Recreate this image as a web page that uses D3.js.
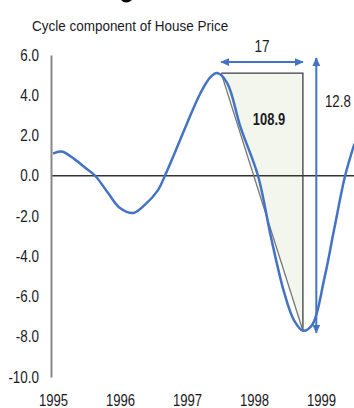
<!DOCTYPE html>
<html><head><meta charset="utf-8">
<script src="https://cdn.jsdelivr.net/npm/d3@7"></script>
<style>
html,body{margin:0;padding:0;background:#fff;overflow:hidden}
svg{display:block}
text{font-family:'Liberation Sans','Arial',sans-serif}
</style></head>
<body>
<script>
// ---- data ----
const years = [1995.0,1995.13,1995.33,1995.48,1995.63,1995.82,1996.0,1996.2,1996.37,1996.57,1996.67,1996.8,1997.0,1997.2,1997.35,1997.45,1997.6,1997.8,1998.06,1998.25,1998.45,1998.6,1998.73,1998.87,1999.05,1999.2,1999.36,1999.5];
const cycle = [1.1,1.2,0.8,0.4,0.0,-0.85,-1.6,-1.85,-1.45,-0.7,0.0,1.0,2.6,4.1,4.9,5.1,4.6,2.4,0.0,-3.0,-5.8,-7.2,-7.7,-7.4,-5.1,-2.6,0.0,1.6];
const yTicks = [6,4,2,0,-2,-4,-6,-8,-10];
const xTicks = [1995,1996,1997,1998,1999];
const titleText = "Cycle component of House Price";
// annotation (peak-to-trough triangle)
const peakYear = 1997.51, troughYear = 1998.73;
const peakVal = 5.1, troughVal = -7.7;
const durationLabel = "17", amplitudeLabel = "12.8", areaLabel = "108.9";
const ampArrowYear = 1998.93;

const W = 354, H = 408;
const svg = d3.select("body").append("svg").attr("width", W).attr("height", H);

const x = d3.scaleLinear().domain([1995, 1999]).range([53, 321]);
const y = d3.scaleLinear().domain([-10, 6]).range([377, 55]);

const blue = "#4472C4";
const ink = "#1a1a24";

// narrow text helper
function ntext(px, py, str, size, sx, anchor, weight){
  return svg.append("text")
    .attr("transform", `translate(${px},${py}) scale(${sx},1)`)
    .attr("text-anchor", anchor || "start")
    .attr("font-size", size).attr("font-weight", weight || "normal")
    .attr("fill", ink).text(str);
}

// defs: arrowheads
const defs = svg.append("defs");
function marker(id, orient){
  defs.append("marker").attr("id", id).attr("viewBox","0 0 10 10")
    .attr("refX", 9).attr("refY", 5).attr("markerWidth", 4.5).attr("markerHeight", 4.5)
    .attr("orient", orient).attr("markerUnits","strokeWidth")
    .append("path").attr("d","M0,0.5 L10,5 L0,9.5 z").attr("fill", blue);
}
marker("arr","auto");
marker("arrS","auto-start-reverse");

// cropped header fragment at the very top edge
svg.append("path").attr("d","M121,0 Q126,5 132,0 Z").attr("fill","#000");

// title
ntext(32, 31, titleText, 15.5, 0.87);

// triangle area
const tri = [[peakYear, peakVal],[troughYear, peakVal],[troughYear, troughVal]];
svg.append("path")
  .attr("d", d3.line().x(d=>x(d[0])).y(d=>y(d[1]))(tri) + "Z")
  .attr("fill", "#f2f6ec").attr("stroke","none");

// zero line
svg.append("line").attr("x1", x(1995)-2).attr("x2", W).attr("y1", y(0)).attr("y2", y(0))
  .attr("stroke", "#333").attr("stroke-width", 1.5);

// box edges
svg.append("path")
  .attr("d", d3.line().x(d=>x(d[0])).y(d=>y(d[1]))(tri))
  .attr("fill","none").attr("stroke","#3a3f4a").attr("stroke-width",1.3);
// diagonal
svg.append("line").attr("x1", x(peakYear)).attr("y1", y(peakVal))
  .attr("x2", x(troughYear)).attr("y2", y(troughVal))
  .attr("stroke","#777").attr("stroke-width",1.3);

// y axis
const yAxis = svg.append("g").attr("transform", `translate(${x(1995)-2},0)`)
  .call(d3.axisLeft(y).tickValues(yTicks).tickSize(0).tickPadding(0).tickFormat(d => d.toFixed(1)));
yAxis.select(".domain").attr("stroke","#888").attr("stroke-width",2);
yAxis.selectAll(".tick text").attr("x", 0).attr("font-size", 16).attr("fill", ink)
  .attr("transform","translate(-12,0) scale(0.84,1)");

// x axis labels
const xAxis = svg.append("g").attr("transform", `translate(0,${y(-10)})`)
  .call(d3.axisBottom(x).tickValues(xTicks).tickSize(0).tickPadding(0).tickFormat(d3.format("d")));
xAxis.select(".domain").remove();
xAxis.selectAll(".tick text").attr("y", 0).attr("dy", null).attr("font-size", 17).attr("fill", ink)
  .attr("transform","translate(0,29) scale(0.77,1)");

// curve
svg.append("path").datum(years.map((t,i)=>[t, cycle[i]]))
  .attr("d", d3.line().x(d=>x(d[0])).y(d=>y(d[1])).curve(d3.curveCatmullRom.alpha(0.5)))
  .attr("fill","none").attr("stroke", blue).attr("stroke-width", 2.5);

// duration arrow
const arrowY = y(peakVal) - 11;
svg.append("line").attr("x1", x(peakYear)).attr("x2", x(troughYear)).attr("y1", arrowY).attr("y2", arrowY)
  .attr("stroke", blue).attr("stroke-width", 2)
  .attr("marker-start","url(#arrS)").attr("marker-end","url(#arr)");
ntext((x(peakYear)+x(troughYear))/2, 52, durationLabel, 17, 0.8, "middle");

// amplitude arrow
svg.append("line").attr("x1", x(ampArrowYear)).attr("x2", x(ampArrowYear))
  .attr("y1", y(troughVal)+2).attr("y2", arrowY-4)
  .attr("stroke", blue).attr("stroke-width", 2)
  .attr("marker-start","url(#arrS)").attr("marker-end","url(#arr)");
ntext(325, 107, amplitudeLabel, 17, 0.78);

// area label
ntext(269, 125, areaLabel, 17, 0.76, "middle", "bold");
</script>
</body></html>
